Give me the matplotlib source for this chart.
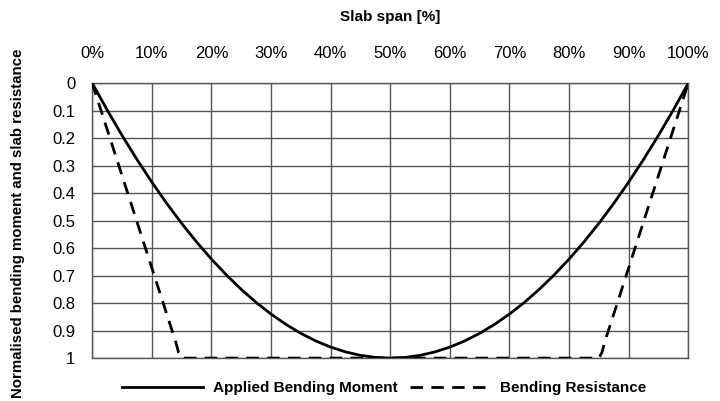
import matplotlib
matplotlib.use("Agg")
import matplotlib.pyplot as plt

plt.rcParams['font.family'] = ["Liberation Sans", "DejaVu Sans"]

span = [0, 2.5, 5, 7.5, 10, 12.5, 15, 17.5, 20, 22.5, 25, 27.5, 30, 32.5, 35, 37.5, 40, 42.5, 45, 47.5, 50,
        52.5, 55, 57.5, 60, 62.5, 65, 67.5, 70, 72.5, 75, 77.5, 80, 82.5, 85, 87.5, 90, 92.5, 95, 97.5, 100]
moment = [0, 0.0975, 0.19, 0.2775, 0.36, 0.4375, 0.51, 0.5775, 0.64, 0.6975, 0.75, 0.7975, 0.84, 0.8775,
          0.91, 0.9375, 0.96, 0.9775, 0.99, 0.9975, 1.0,
          0.9975, 0.99, 0.9775, 0.96, 0.9375, 0.91, 0.8775, 0.84, 0.7975, 0.75, 0.6975, 0.64, 0.5775, 0.51,
          0.4375, 0.36, 0.2775, 0.19, 0.0975, 0]
res_span = [0, 14, 14.5, 15, 85, 85.5, 86, 100]
resistance = [0, 0.94, 0.98, 1.0, 1.0, 0.98, 0.94, 0]
xticks = [0, 10, 20, 30, 40, 50, 60, 70, 80, 90, 100]
xticklabels = ["0%", "10%", "20%", "30%", "40%", "50%", "60%", "70%", "80%", "90%", "100%"]
yticks = [0, 0.1, 0.2, 0.3, 0.4, 0.5, 0.6, 0.7, 0.8, 0.9, 1]
yticklabels = ["0", "0.1", "0.2", "0.3", "0.4", "0.5", "0.6", "0.7", "0.8", "0.9", "1"]

fig = plt.figure(figsize=(7.2, 4.01), dpi=100)
ax = fig.add_axes([0.128, 0.107, 0.828, 0.686])
ax.plot(span, moment, color="black", lw=2, label="Applied Bending Moment", zorder=3,
        solid_joinstyle="round")
ax.plot(res_span, resistance, color="black", lw=2, ls=(0, (4.5, 3)), label="Bending Resistance", zorder=3)
ax.set_xlim(0, 100)
ax.set_ylim(1, 0)
ax.xaxis.tick_top()
ax.xaxis.set_label_position("top")
ax.set_xticks(xticks)
ax.set_xticklabels(xticklabels)
ax.set_yticks(yticks)
ax.set_yticklabels(yticklabels)
ax.tick_params(axis="x", length=0, labelsize=12, pad=16)
ax.tick_params(axis="y", length=0, labelsize=12, pad=12)
ax.grid(True, color="#555555", lw=1)
for s in ax.spines.values():
    s.set_color("#555555")
    s.set_linewidth(1)
ax.set_xlabel("Slab span [%]", fontsize=11, fontweight="bold", labelpad=18)
ax.set_ylabel("Normalised bending moment and slab resistance", fontsize=10.8, fontweight="bold")
ax.yaxis.set_label_coords(-0.112, 0.49)
leg = ax.legend(loc="upper center", bbox_to_anchor=(0.49, -0.035), ncol=2, frameon=False,
                prop={"weight": "bold", "size": 11}, handlelength=5.3, handletextpad=0.65,
                columnspacing=0.8)
fig.savefig("out.png", dpi=100)
